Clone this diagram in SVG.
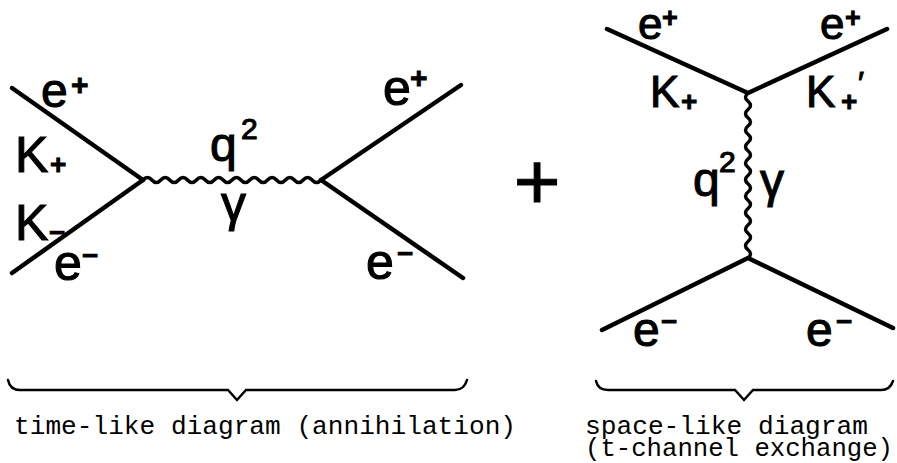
<svg xmlns="http://www.w3.org/2000/svg" width="897" height="463" viewBox="0 0 897 463">
<style>
.ln{fill:none;stroke:#000;stroke-width:4.5;stroke-linecap:round;stroke-linejoin:round}
.wv{fill:none;stroke:#000;stroke-width:3.5;stroke-linecap:round}
.br{fill:none;stroke:#000;stroke-width:2.5;stroke-linecap:round;stroke-linejoin:miter}
.lb{font-family:"Liberation Sans","DejaVu Sans",sans-serif;fill:#000;stroke:#000;stroke-width:1.1}
.sp{font-family:"Liberation Sans","DejaVu Sans",sans-serif;fill:#000;font-weight:bold;stroke:#000;stroke-width:0.8}
.cap{font-family:"Liberation Mono","DejaVu Sans Mono",monospace;fill:#000;font-size:26px}
</style>
<rect width="897" height="463" fill="#fff"/>
<g id="connectors">
<path class="ln" d="M12,88 L143,180"/>
<path class="ln" d="M12,273 L143,180"/>
<path class="wv" d="M143,180 q4.45,-5 8.9,0 t8.9,0 t8.9,0 t8.9,0 t8.9,0 t8.9,0 t8.9,0 t8.9,0 t8.9,0 t8.9,0 t8.9,0 t8.9,0 t8.9,0 t8.9,0 t8.9,0 t8.9,0 t8.9,0 t8.9,0 t8.9,0 t8.9,0"/>
<path class="ln" d="M321,180 L461,85"/>
<path class="ln" d="M321,180 L463,278"/>
<path class="ln" d="M607,29 L748,93 L887,29"/>
<path class="wv" d="M748,93 q-5,4.125 0,8.25 t0,8.25 t0,8.25 t0,8.25 t0,8.25 t0,8.25 t0,8.25 t0,8.25 t0,8.25 t0,8.25 t0,8.25 t0,8.25 t0,8.25 t0,8.25 t0,8.25 t0,8.25 t0,8.25 t0,8.25 t0,8.25 t0,8.25"/>
<path class="ln" d="M602,330 L748,258 L893,328"/>
</g>
<g id="timelike">
<g id="l-eplus-in"><text class="lb" x="41" y="107" font-size="48">e</text><text class="sp" x="71" y="95" font-size="30">+</text></g>
<g id="l-Kplus"><text class="lb" x="15" y="172" font-size="50">K</text><text class="sp" x="50" y="174" font-size="28">+</text></g>
<g id="l-Kminus"><text class="lb" x="15" y="240" font-size="50">K</text><text class="sp" x="49" y="242" font-size="28">−</text></g>
<g id="l-eminus-in"><text class="lb" x="54" y="280" font-size="50">e</text><text class="sp" x="82" y="265" font-size="28">−</text></g>
<g id="l-q2"><text class="lb" x="210" y="161" font-size="48">q</text><text class="lb" x="241" y="139" font-size="30">2</text></g>
<g id="l-gamma"><text class="lb" x="221" y="221" font-size="50">γ</text></g>
<g id="l-eplus-out"><text class="lb" x="383" y="105" font-size="50">e</text><text class="sp" x="410" y="88" font-size="30">+</text></g>
<g id="l-eminus-out"><text class="lb" x="366" y="279" font-size="50">e</text><text class="sp" x="397" y="263" font-size="28">−</text></g>
</g>
<g id="plus"><text class="lb" x="537" y="209" font-size="80" text-anchor="middle">+</text></g>
<g id="spacelike">
<g id="r-eplus-in"><text class="lb" x="638" y="39" font-size="44">e</text><text class="sp" x="662" y="27" font-size="27">+</text></g>
<g id="r-eplus-out"><text class="lb" x="820" y="39" font-size="44">e</text><text class="sp" x="845" y="27" font-size="27">+</text></g>
<g id="r-Kplus"><text class="lb" x="650" y="107" font-size="44">K</text><text class="sp" x="681" y="111" font-size="28">+</text></g>
<g id="r-Kplusprime"><text class="lb" x="806" y="107" font-size="44">K</text><text class="sp" x="841" y="111" font-size="28">+</text><text class="lb" x="858" y="94" font-size="32">′</text></g>
<g id="r-q2"><text class="lb" x="693" y="196" font-size="48">q</text><text class="lb" x="719" y="172" font-size="30">2</text></g>
<g id="r-gamma"><text class="lb" x="760" y="197" font-size="48">γ</text></g>
<g id="r-eminus-in"><text class="lb" x="633" y="346" font-size="48">e</text><text class="sp" x="661" y="331" font-size="28">−</text></g>
<g id="r-eminus-out"><text class="lb" x="806" y="346" font-size="48">e</text><text class="sp" x="836" y="331" font-size="28">−</text></g>
</g>
<g id="braces">
<path class="br" d="M8,380 Q10,390 20,390 L228,390 L237,400 L246,390 L455,390 Q464,390 467,380"/>
<path class="br" d="M596,381 Q598,390 608,390 L735,390 L744,400 L753,390 L881,390 Q890,390 893,381"/>
</g>
<g id="captions">
<text class="cap" x="14" y="434" textLength="502" lengthAdjust="spacingAndGlyphs">time-like diagram (annihilation)</text>
<text class="cap" x="585" y="434" textLength="283" lengthAdjust="spacingAndGlyphs">space-like diagram</text>
<text class="cap" x="585" y="456" textLength="308" lengthAdjust="spacingAndGlyphs">(t-channel exchange)</text>
</g>
</svg>
